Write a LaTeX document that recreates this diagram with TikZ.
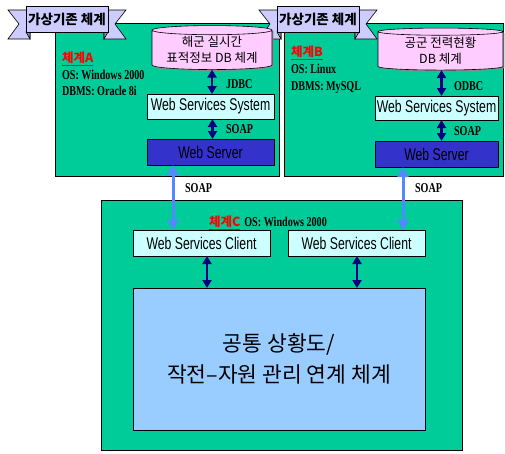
\documentclass[tikz,border=0pt]{standalone}
\usepackage{fontspec}
\setmainfont{Liberation Serif}
\newfontfamily\kr{Noto Sans CJK KR}
\newfontfamily\sysfont[FakeStretch=0.72]{Liberation Sans}
\newfontfamily\osfont[FakeStretch=0.75]{Liberation Serif}
\usetikzlibrary{arrows.meta, positioning, shapes.geometric, shadows}

\definecolor{boxgreen}{HTML}{00CC99}
\definecolor{bannerfill}{HTML}{CCCCFF}
\definecolor{bannerfold}{HTML}{8F8FC0}
\definecolor{dbpink}{HTML}{FFCCFF}
\definecolor{syscyan}{HTML}{CCFFFF}
\definecolor{serverblue}{HTML}{3333CC}
\definecolor{linknavy}{HTML}{000080}
\definecolor{soapblue}{HTML}{5588FF}
\definecolor{mainblue}{HTML}{99CCFF}

\begin{document}
\begin{tikzpicture}[x=1pt, y=-1pt,
    every node/.style={inner sep=0pt, outer sep=0pt},
    shade/.style={drop shadow={shadow xshift=1.3pt, shadow yshift=-1.3pt, fill=black!45, opacity=1}},
    sysbox/.style={rectangle, draw=black, line width=0.6pt, fill=boxgreen,
                   drop shadow={shadow xshift=1.3pt, shadow yshift=-1.3pt, fill=black!75, opacity=1}},
    banner/.style={rectangle, draw=black, line width=0.6pt, fill=bannerfill,
                   minimum width=82, minimum height=26, font=\kr\bfseries\fontsize{13.5}{15}\selectfont},
    tail/.style={draw=black, line width=0.6pt, fill=bannerfill},
    dbcyl/.style={cylinder, shape border rotate=90, aspect=0.1, draw=black, line width=0.6pt,
                  fill=dbpink, shade, align=center, font=\kr\fontsize{12.5}{16}\selectfont},
    wsbox/.style={rectangle, draw=black, line width=0.6pt, fill=syscyan, shade,
                  font=\sysfont\fontsize{17}{18}\selectfont},
    serverbox/.style={wsbox, fill=serverblue},
    mainbox/.style={rectangle, draw=black, line width=0.6pt, fill=mainblue, shade,
                    align=center, font=\kr\fontsize{21.5}{31}\selectfont},
    infotext/.style={anchor=base west, font=\osfont\bfseries\fontsize{13.5}{15}\selectfont},
    systitle/.style={anchor=base west, text=red, font=\kr\bfseries\fontsize{12.5}{14}\selectfont},
    link/.style={{Triangle[width=9pt,length=8pt]}-{Triangle[width=9pt,length=8pt]},
                 line width=2.6pt, draw=linknavy},
    soaplink/.style={{Triangle[width=11pt,length=10pt]}-{Triangle[width=11pt,length=10pt]},
                     line width=3pt, draw=soapblue, fill=soapblue}]

\useasboundingbox (0,0) rectangle (505,453);

% Systems
\node[sysbox, minimum width=224, minimum height=153] (sysA) at (167,99.5) {};
\node[sysbox, minimum width=219, minimum height=153] (sysB) at (393.5,99.5) {};
\node[sysbox, minimum width=361, minimum height=250] (sysC) at (281.5,325) {};

% Banners
\foreach \cx in {67,318} {
  \draw[tail] (\cx-37,10) -- (\cx-59,10) -- (\cx-48,24) -- (\cx-59,39) -- (\cx-37,39) -- cycle;
  \draw[tail] (\cx+37,10) -- (\cx+59,10) -- (\cx+48,24) -- (\cx+59,39) -- (\cx+37,39) -- cycle;
  \draw[draw=black, line width=0.6pt, fill=bannerfold] (\cx-41,32) -- (\cx-37,39) -- (\cx-37,32) -- cycle;
  \draw[draw=black, line width=0.6pt, fill=bannerfold] (\cx+41,32) -- (\cx+37,39) -- (\cx+37,32) -- cycle;
}
\node[banner] (bannerA) at (67,19) {가상기존 체계};
\node[banner] (bannerB) at (318,19) {가상기존 체계};

% System A
\node[dbcyl, minimum width=120, minimum height=44] (dbA) at (212,50) {해군 실시간\\표적정보 DB 체계};
\node[wsbox, minimum width=127, minimum height=25] (wssA) at (210.5,106.5) {Web Services System};
\node[serverbox, minimum width=127, minimum height=26] (serverA) at (210.5,152) {Web Server};
\node[systitle] (titleA) at (62,62.5) {\underline{체계A}};
\node[infotext] (osA) at (62,79.5) {OS: Windows 2000};
\node[infotext] (dbmsA) at (62,95.5) {DBMS: Oracle 8i};

% System B
\node[dbcyl, minimum width=125, minimum height=42] (dbB) at (440.5,51) {공군 전력현황\\DB 체계};
\node[wsbox, minimum width=123, minimum height=24] (wssB) at (436.5,108) {Web Services System};
\node[serverbox, minimum width=123, minimum height=26] (serverB) at (436.5,154) {Web Server};
\node[systitle] (titleB) at (291,56.5) {\underline{체계B}};
\node[infotext] (osB) at (291,73.5) {OS: Linux};
\node[infotext] (dbmsB) at (291,90.5) {DBMS: MySQL};

% System C
\node[systitle] (titleC) at (209,226.5) {\underline{체계C}};
\node[infotext, right=4pt of titleC.base east, anchor=base west] (osC) {OS: Windows 2000};
\node[wsbox, minimum width=137, minimum height=26] (wscL) at (201.5,243) {Web Services Client};
\node[wsbox, minimum width=137, minimum height=26] (wscR) at (356.5,243) {Web Services Client};
\node[mainbox, minimum width=292, minimum height=142] (main) at (279,359) {공통 상황도/\\작전–자원 관리 연계 체계};

% Edges
\draw[link] (dbA.south) -- (dbA.south |- wssA.north);
\draw[link] ([xshift=2pt]wssA.south) -- ([xshift=2pt]wssA.south |- serverA.north);
\draw[link] ([xshift=5pt]wssB.north) -- ([xshift=5pt]wssB.north |- dbB.south);
\draw[link] ([xshift=5pt]wssB.south) -- ([xshift=5pt]wssB.south |- serverB.north);
\draw[soaplink] ([xshift=-37.5pt]serverA.south) -- ([xshift=-37.5pt]serverA.south |- wscL.north);
\draw[soaplink] ([xshift=-33.5pt]serverB.south) -- ([xshift=-33.5pt]serverB.south |- wscR.north);
\draw[link] ([xshift=5.5pt]wscL.south) -- ([xshift=5.5pt]wscL.south |- main.north);
\draw[link] ([xshift=0.5pt]wscR.south) -- ([xshift=0.5pt]wscR.south |- main.north);

% Protocol labels
\node[infotext] (jdbcA) at (226,88.5) {JDBC};
\node[infotext] (soapA) at (226,133.5) {SOAP};
\node[infotext] (odbcB) at (454,90.5) {ODBC};
\node[infotext] (soapB) at (454,135.5) {SOAP};
\node[infotext] (soapAC) at (185,192.5) {SOAP};
\node[infotext] (soapBC) at (415,192.5) {SOAP};

\end{tikzpicture}
\end{document}
